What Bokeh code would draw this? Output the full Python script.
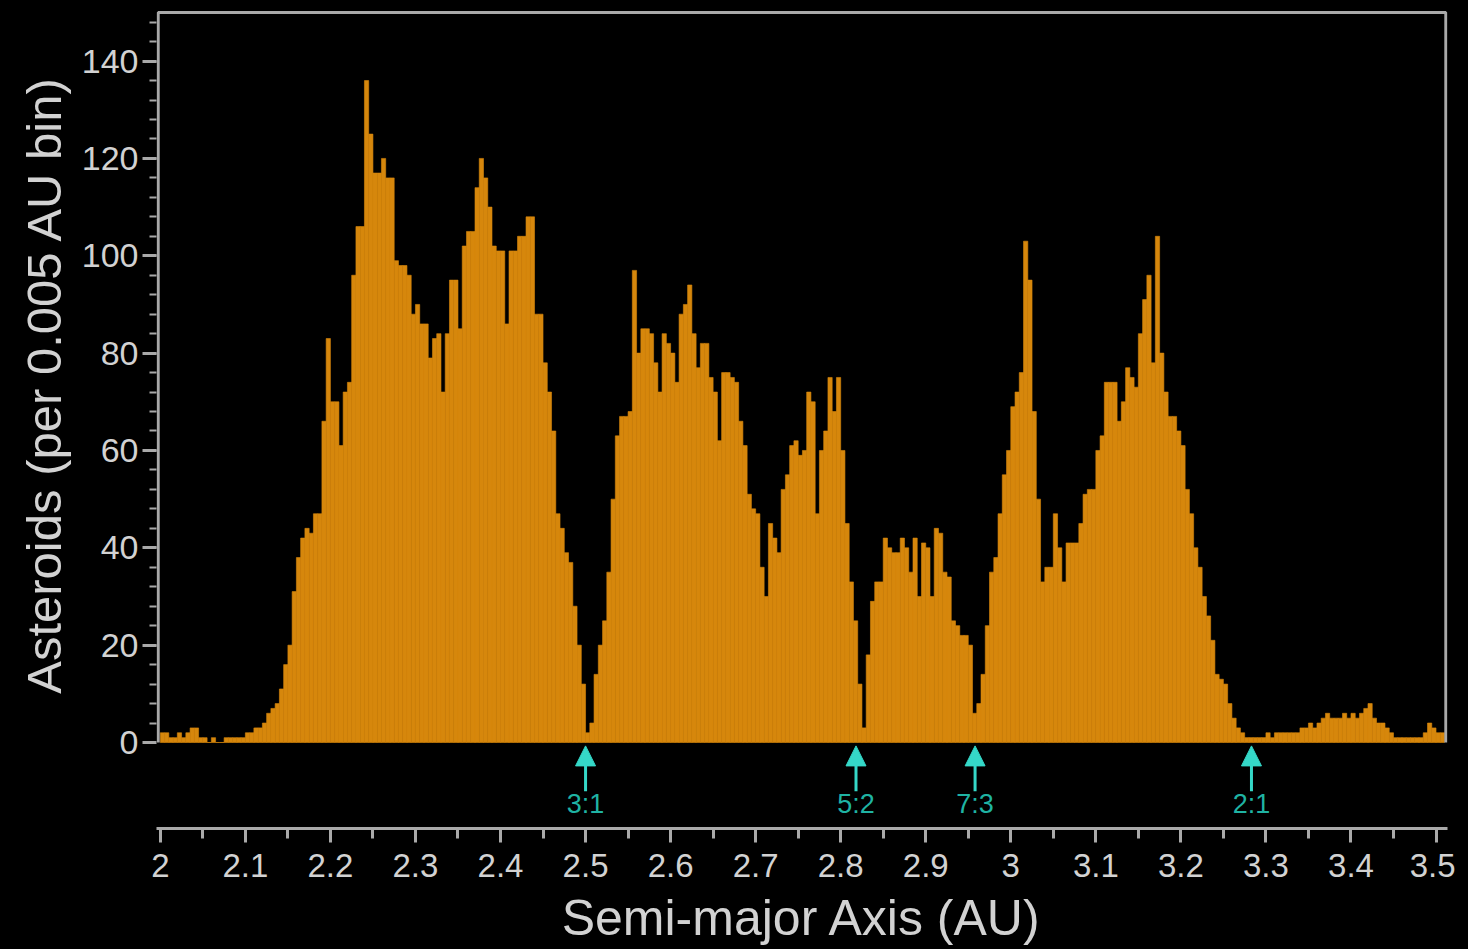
import numpy as np
from bokeh.plotting import figure
from bokeh.models import Range1d, FixedTicker, Arrow, NormalHead, GlobalInlineStyleSheet, Title
from bokeh.core.properties import value
from bokeh.embed import file_html
from bokeh.resources import INLINE

# ---------------- data ----------------
BIN_START = 2.0      # AU
BIN_WIDTH = 0.005    # AU per bin

counts = [
    2, 2, 1, 1, 2, 1, 2, 3, 3, 1,
    1, 0, 1, 0, 0, 1, 1, 1, 1, 1,
    2, 2, 3, 3, 4, 6, 7, 8, 11, 16,
    20, 31, 38, 42, 44, 43, 47, 47, 66, 83,
    70, 70, 61, 72, 74, 96, 106, 106, 136, 125,
    117, 117, 120, 116, 116, 99, 98, 98, 96, 88,
    90, 86, 86, 79, 83, 84, 72, 84, 95, 95,
    85, 102, 105, 105, 114, 120, 116, 110, 102, 101,
    101, 86, 101, 101, 104, 104, 108, 108, 88, 88,
    78, 72, 64, 47, 44, 39, 37, 28, 20, 12,
    2, 4, 14, 20, 25, 35, 50, 63, 67, 67,
    68, 97, 80, 85, 85, 84, 78, 72, 84, 82,
    80, 74, 88, 90, 94, 84, 77, 82, 82, 75,
    72, 62, 76, 76, 75, 74, 66, 61, 51, 48,
    47, 36, 30, 45, 42, 39, 52, 55, 61, 62,
    59, 60, 72, 70, 47, 60, 64, 75, 68, 75,
    60, 45, 33, 25, 12, 3, 18, 29, 33, 33,
    42, 40, 39, 39, 42, 40, 35, 42, 30, 41,
    40, 30, 44, 43, 35, 34, 25, 24, 22, 22,
    20, 6, 8, 14, 24, 35, 38, 47, 55, 60,
    69, 72, 76, 103, 95, 68, 50, 33, 36, 36,
    47, 40, 33, 41, 41, 41, 45, 51, 52, 52,
    60, 63, 74, 74, 74, 66, 70, 77, 75, 73,
    84, 91, 96, 78, 104, 80, 72, 67, 67, 64,
    61, 52, 47, 40, 36, 30, 26, 21, 14, 13,
    12, 8, 5, 3, 2, 1, 1, 1, 1, 1,
    2, 1, 2, 2, 2, 2, 2, 2, 3, 3,
    4, 3, 4, 5, 6, 5, 5, 5, 6, 5,
    6, 5, 6, 7, 8, 5, 4, 4, 3, 2,
    1, 1, 1, 1, 1, 1, 1, 2, 4, 3,
    2, 2,
]

resonance_labels = ["3:1", "5:2", "7:3", "2:1"]
resonance_a = [2.50, 2.818, 2.958, 3.283]

x_ticks = [2.0, 2.1, 2.2, 2.3, 2.4, 2.5, 2.6, 2.7, 2.8, 2.9, 3.0, 3.1, 3.2, 3.3, 3.4, 3.5]
x_tick_labels = ["2", "2.1", "2.2", "2.3", "2.4", "2.5", "2.6", "2.7", "2.8", "2.9",
                 "3", "3.1", "3.2", "3.3", "3.4", "3.5"]
y_ticks = [0, 20, 40, 60, 80, 100, 120, 140]
y_tick_labels = ["0", "20", "40", "60", "80", "100", "120", "140"]

# ---------------- styling ----------------
BG = "#000000"
ORANGE = "#D6870C"
FRAME = "#A9A9A9"
TEXT = "#D2D2D2"
CYAN = "#35D8C8"
TEAL = "#1FB3A3"
FONT = "Liberation Sans"

left_edges = BIN_START + BIN_WIDTH * np.arange(len(counts))
right_edges = left_edges + BIN_WIDTH

X_BOX_LO, X_BOX_HI, Y_BOX_TOP = 1.9975, 3.5115, 150.0

p = figure(
    frame_width=1291, frame_height=819,
    x_range=Range1d(1.9955, 3.5135), y_range=Range1d(-17.67, 150.6),
    output_backend="svg", toolbar_location=None,
    background_fill_color=BG, border_fill_color=BG, outline_line_color=None,
    min_border_left=156, min_border_right=8, min_border_top=9, min_border_bottom=100,
)
p.stylesheets = [GlobalInlineStyleSheet(css="html, body { background: #000; }")]
p.grid.visible = False

# histogram bars
p.quad(left=left_edges, right=right_edges, bottom=0, top=counts,
       fill_color=ORANGE, line_color=ORANGE, line_width=0.6)

# frame box (left, top, right)
p.line(x=[X_BOX_LO, X_BOX_LO, X_BOX_HI, X_BOX_HI], y=[0, Y_BOX_TOP, Y_BOX_TOP, 0],
       line_color=FRAME, line_width=3)

# resonance arrows
for a in resonance_a:
    p.add_layout(Arrow(end=NormalHead(size=20, fill_color=CYAN, line_color=CYAN),
                       x_start=a, y_start=-10.0, x_end=a, y_end=-0.7,
                       line_color=CYAN, line_width=3))
p.text(x=resonance_a, y=[-12.7] * len(resonance_a), text=resonance_labels,
       text_align="center", text_baseline="middle", text_color=TEAL,
       text_font=value(FONT), text_font_size="27px")

# x axis
xa = p.xaxis[0]
minor_x = [round(t + 0.05, 2) for t in x_ticks[:-1]]
xa.ticker = FixedTicker(ticks=x_ticks, minor_ticks=minor_x)
xa.major_label_overrides = dict(zip(x_ticks, x_tick_labels))
xa.axis_line_color = FRAME
xa.axis_line_width = 3
xa.major_tick_line_color = FRAME
xa.major_tick_line_width = 3
xa.major_tick_in = 0
xa.major_tick_out = 14
xa.minor_tick_line_color = FRAME
xa.minor_tick_line_width = 3
xa.minor_tick_in = 0
xa.minor_tick_out = 10
xa.major_label_standoff = 11
xa.major_label_text_font = FONT
xa.major_label_text_font_size = "33px"
xa.major_label_text_color = TEXT
xa.axis_label = "Semi-major Axis (AU)"
xa.axis_label_text_font = FONT
xa.axis_label_text_font_size = "50px"
xa.axis_label_text_font_style = "normal"
xa.axis_label_text_color = TEXT
xa.axis_label_standoff = 10

# y axis
ya = p.yaxis[0]
ya.ticker = FixedTicker(ticks=y_ticks, minor_ticks=list(range(4, 150, 4)))
ya.major_label_overrides = dict(zip(y_ticks, y_tick_labels))
ya.axis_line_color = None
ya.major_tick_line_color = FRAME
ya.major_tick_line_width = 3
ya.major_tick_in = 0
ya.major_tick_out = 14
ya.minor_tick_line_color = FRAME
ya.minor_tick_line_width = 2
ya.minor_tick_in = 0
ya.minor_tick_out = 7
ya.major_label_standoff = 4
ya.major_label_text_font = FONT
ya.major_label_text_font_size = "34px"
ya.major_label_text_color = TEXT

# y-axis title (side title, aligned to the top of the box)
p.add_layout(Title(text="Asteroids (per 0.005 AU bin)", align="right", offset=66,
                   standoff=16, text_font=FONT, text_font_size="49px",
                   text_font_style="normal", text_color=TEXT), "left")

open("out.html", "w").write(file_html(p, INLINE))
